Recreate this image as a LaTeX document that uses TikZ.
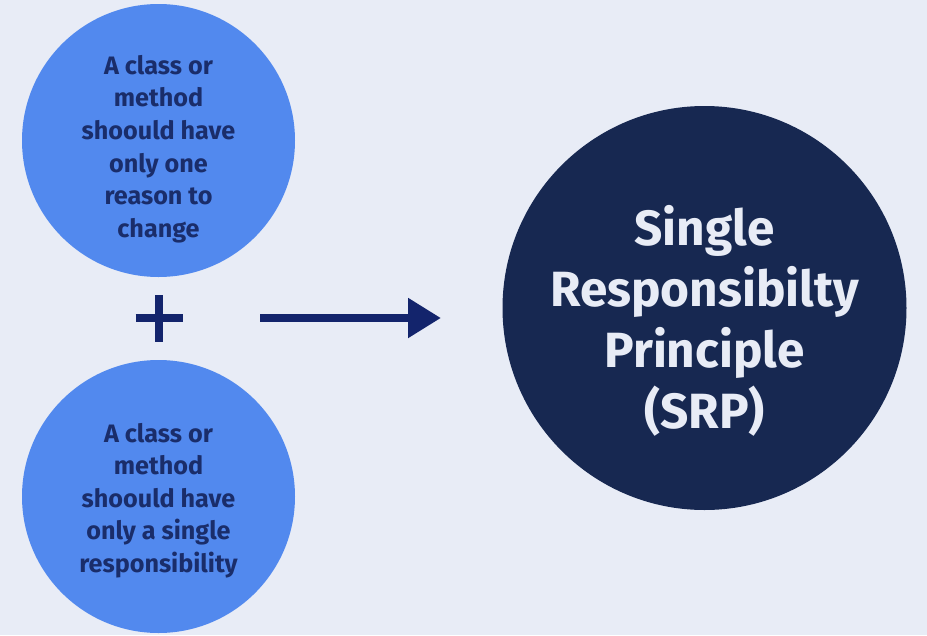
\documentclass[tikz,border=0pt]{standalone}
\usepackage{fontspec}
\setmainfont{Fira Sans}
\usetikzlibrary{arrows.meta}
\definecolor{bgc}{HTML}{E8ECF6}
\definecolor{lightc}{HTML}{5289EE}
\definecolor{darkc}{HTML}{172851}
\definecolor{textc}{HTML}{1A2D6A}
\definecolor{markc}{HTML}{13246C}
\tikzset{
  smallcirc/.style={circle, fill=lightc, minimum size=273pt, inner sep=0pt},
  bigcirc/.style={circle, fill=darkc, minimum size=404pt, inner sep=0pt},
  smalltext/.style={align=center, text=textc, font=\fontsize{25.2}{32.6}\selectfont\bfseries},
  bigtext/.style={align=center, text=bgc, font=\fontsize{49.5}{61}\selectfont\bfseries},
  markline/.style={draw=markc, line width=8.5pt},
}
\begin{document}
\begin{tikzpicture}[x=1pt, y=-1pt]
\fill[bgc] (0,0) rectangle (927,635);
\useasboundingbox (0,0) rectangle (927,635);
\node[smallcirc] (c1) at (158.5,140.5) {};
\node[smallcirc] (c2) at (158.5,496.5) {};
\node[bigcirc] (c3) at (704.5,308) {};
\node[smalltext] (t1) at (158.5,149) {A class or\\method\\shoould have\\only one\\reason to\\change};
\node[smalltext] (t2) at (158.5,500.5) {A class or\\method\\shoould have\\only a single\\responsibility};
\node[bigtext] (t3) at (704.5,320.5) {Single\\Responsibilty\\Principle\\(SRP)};
\coordinate (p) at (159,318);
\draw[markline] ([yshift=-23.5pt]p) -- ([yshift=23.5pt]p);
\draw[markline] ([xshift=-23.5pt]p) -- ([xshift=23.5pt]p);
\coordinate (a1) at (260,318);
\coordinate (a2) at (441,318);
\draw[markline, -{Triangle[length=33pt, width=38pt]}] (a1) -- (a2);
\end{tikzpicture}
\end{document}
